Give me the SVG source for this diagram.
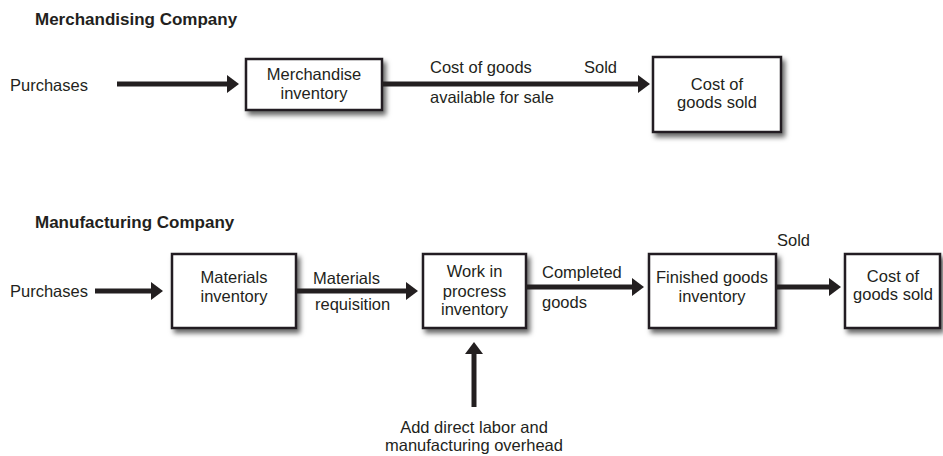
<svg xmlns="http://www.w3.org/2000/svg" width="943" height="456" viewBox="0 0 943 456">
<style>
text{font-family:"Liberation Sans",Arial,sans-serif;font-size:16.5px;fill:#231f20}
.title{font-weight:bold;font-size:17px}
.c{text-anchor:middle}
.box{fill:#fff;stroke:#231f20;stroke-width:2.5;filter:url(#sh)}
.conn line{stroke:#231f20;stroke-width:5;marker-end:url(#ah)}
</style>
<defs>
<filter id="sh" x="-20%" y="-20%" width="140%" height="150%">
<feDropShadow dx="3" dy="4" stdDeviation="2.5" flood-color="#000" flood-opacity="0.6"/>
</filter>
<marker id="ah" markerUnits="userSpaceOnUse" markerWidth="12" markerHeight="18" refX="6" refY="9" orient="auto">
<path d="M0,0 L12,9 L0,18 z" fill="#231f20"/>
</marker>
</defs>
<rect width="943" height="456" fill="#fff"/>
<text class="title" x="35" y="25">Merchandising Company</text>
<text class="title" x="35" y="228">Manufacturing Company</text>
<g id="purchases1"><text x="10" y="91">Purchases</text></g>
<g id="merch"><rect class="box" x="246" y="59" width="136" height="51"/><text class="c" x="314" y="80">Merchandise</text><text class="c" x="314" y="99">inventory</text></g>
<g id="cogs1"><rect class="box" x="653" y="57" width="128" height="75"/><text class="c" x="717" y="90">Cost of</text><text class="c" x="717" y="108">goods sold</text></g>
<g id="purchases2"><text x="10" y="297">Purchases</text></g>
<g id="materials"><rect class="box" x="172" y="254" width="124" height="74"/><text class="c" x="234" y="283">Materials</text><text class="c" x="234" y="302">inventory</text></g>
<g id="wip"><rect class="box" x="423" y="254" width="103" height="74"/><text class="c" x="474.5" y="277">Work in</text><text class="c" x="474.5" y="297">procress</text><text class="c" x="474.5" y="315">inventory</text></g>
<g id="finished"><rect class="box" x="649" y="254" width="127" height="74"/><text class="c" x="712" y="283">Finished goods</text><text class="c" x="712" y="302">inventory</text></g>
<g id="cogs2"><rect class="box" x="845" y="254" width="95" height="74"/><text class="c" x="893" y="282">Cost of</text><text class="c" x="893" y="300">goods sold</text></g>
<g id="labor"><text class="c" x="474" y="433">Add direct labor and</text><text class="c" x="474" y="451">manufacturing overhead</text></g>
<g class="conn" id="connectors">
<line x1="117" y1="84" x2="233" y2="84"/>
<line x1="382" y1="84" x2="644" y2="84"/>
<line x1="95" y1="291" x2="157" y2="291"/>
<line x1="296" y1="291" x2="412" y2="291"/>
<line x1="526" y1="287" x2="638" y2="287"/>
<line x1="776" y1="287" x2="835" y2="287"/>
<line x1="474" y1="407" x2="474" y2="348"/>
</g>
<g id="labels">
<text x="430" y="73">Cost of goods</text>
<text x="584" y="73">Sold</text>
<text x="430" y="103">available for sale</text>
<text x="313" y="284">Materials</text>
<text x="315" y="310">requisition</text>
<text x="542" y="278">Completed</text>
<text x="542" y="308">goods</text>
<text x="777" y="246">Sold</text>
</g>
</svg>
